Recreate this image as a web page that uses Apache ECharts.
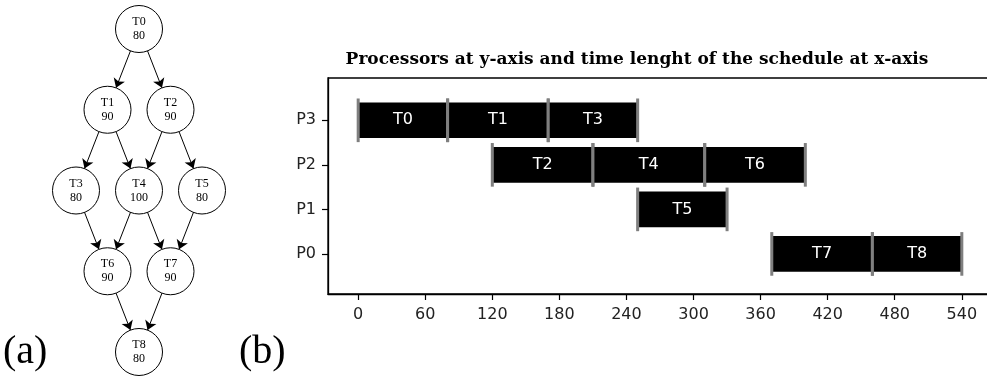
<!DOCTYPE html>
<html><head><meta charset="utf-8">
<script src="https://cdn.jsdelivr.net/npm/echarts@6/dist/echarts.min.js"></script>
<style>html,body{margin:0;padding:0;background:#fff}#c{width:987px;height:380px}</style>
</head><body><div id="c"></div>
<script>
// (a) task graph
const taskNames = ['T0','T1','T2','T3','T4','T5','T6','T7','T8'];
const taskCosts = [80,90,90,80,100,80,90,90,80];
const taskLevel = [0,1,1,2,2,2,3,3,4];
const taskColumn = [0,-0.5,0.5,-1,0,1,-0.5,0.5,0];
const edgeFrom = ['T0','T0','T1','T1','T2','T2','T3','T4','T4','T5','T6','T7'];
const edgeTo   = ['T1','T2','T3','T4','T4','T5','T6','T6','T7','T7','T8','T8'];
// (b) schedule
const processors = ['P0','P1','P2','P3'];
const schedTask  = ['T0','T1','T3','T2','T4','T6','T5','T7','T8'];
const schedProc  = [3,3,3,2,2,2,1,0,0];
const schedStart = [0,80,170,120,210,310,250,370,460];
const schedEnd   = [80,170,250,210,310,400,330,460,540];
const xTicks = [0,60,120,180,240,300,360,420,480,540];
const yTicks = [0,1,2,3];

const chart = echarts.init(document.getElementById('c'), null, {renderer:'canvas'});

const nodes = taskNames.map((n,i)=>({name:n, value:[taskColumn[i], taskLevel[i]], cost:taskCosts[i]}));
const links = edgeFrom.map((s,i)=>({source:s, target:edgeTo[i]}));
const sched = schedTask.map((t,i)=>[schedProc[i], schedStart[i], schedEnd[i], t]);

function renderBar(params, api){
  const p = api.value(0), s = api.value(1), e = api.value(2);
  const a = api.coord([s, p]), b = api.coord([e, p]);
  const h = api.size([0, 0.8])[1];
  const top = a[1] - h/2;
  const name = sched[params.dataIndex][3];
  return {type:'group', children:[
    {type:'rect', shape:{x:a[0], y:top, width:b[0]-a[0], height:h}, style:{fill:'#000'}},
    {type:'line', shape:{x1:a[0], y1:top-4, x2:a[0], y2:top+h+4}, style:{stroke:'#7f7f7f', lineWidth:3}},
    {type:'line', shape:{x1:b[0], y1:top-4, x2:b[0], y2:top+h+4}, style:{stroke:'#7f7f7f', lineWidth:3}},
    {type:'text', style:{text:name, x:(a[0]+b[0])/2, y:a[1], fill:'#fff', font:'16px "DejaVu Sans"', align:'center', verticalAlign:'middle'}}
  ]};
}

const option = {
  animation:false,
  backgroundColor:'#fff',
  graphic:[
    {type:'text', x:637, y:60, style:{text:'Processors at y-axis and time lenght of the schedule at x-axis', font:'bold 17px "DejaVu Serif"', fill:'#000', align:'center', verticalAlign:'middle'}},
    {type:'text', left:3, top:332, style:{text:'(a)', font:'40px "Liberation Serif"', fill:'#000'}},
    {type:'text', left:239, top:332, style:{text:'(b)', font:'40px "Liberation Serif"', fill:'#000'}}
  ],
  grid:[
    {left:328, top:78, width:664, bottom:86, show:true, borderColor:'#000', borderWidth:1.3, backgroundColor:'transparent', containLabel:false, outerBoundsMode:'none'},
    {left:76, width:126, top:29, height:323, show:false, outerBoundsMode:'none'}
  ],
  xAxis:[
    {gridIndex:0, type:'value', min:-27, max:567,
     axisLine:{show:true, onZero:false, lineStyle:{color:'#000', width:1.3}},
     axisTick:{show:true, customValues:xTicks, length:6, lineStyle:{color:'#000', width:1.2}},
     axisLabel:{customValues:xTicks, margin:13, color:'#222', fontSize:16, fontFamily:'DejaVu Sans'},
     splitLine:{show:false}},
    {gridIndex:1, type:'value', min:-1, max:1, show:false}
  ],
  yAxis:[
    {gridIndex:0, type:'value', min:-0.9, max:3.95,
     axisLine:{show:true, onZero:false, lineStyle:{color:'#000', width:1.3}},
     axisTick:{show:true, customValues:yTicks, length:6, lineStyle:{color:'#000', width:1.2}},
     axisLabel:{customValues:yTicks, margin:12, color:'#222', fontSize:16, fontFamily:'DejaVu Sans', formatter:v=>processors[Math.round(v)]},
     splitLine:{show:false}},
    {gridIndex:1, type:'value', min:0, max:4, inverse:true, show:false}
  ],
  series:[
    {type:'custom', xAxisIndex:0, yAxisIndex:0, renderItem:renderBar, data:sched, encode:{x:[1,2], y:0}, clip:false},
    {type:'graph', coordinateSystem:'cartesian2d', xAxisIndex:1, yAxisIndex:1,
     symbol:'circle', symbolSize:47,
     itemStyle:{color:'#fff', borderColor:'#000', borderWidth:1},
     label:{show:true, position:'inside', color:'#000', fontFamily:'Liberation Serif', fontSize:12, lineHeight:14,
            formatter:p=>p.data.name+'\n'+p.data.cost},
     edgeSymbol:['none','arrow'], edgeSymbolSize:[0,9],
     lineStyle:{color:'#000', width:1, opacity:1},
     emphasis:{disabled:true},
     data:nodes, links:links}
  ]
};
chart.setOption(option);
</script></body></html>
